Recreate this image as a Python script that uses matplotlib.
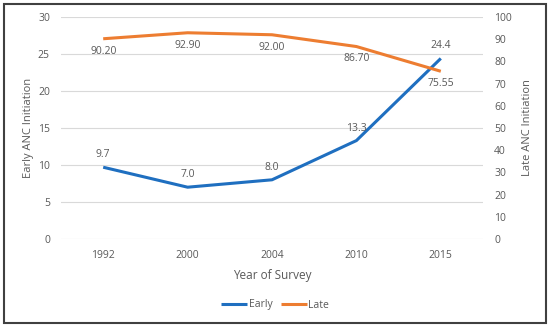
import matplotlib.pyplot as plt
from matplotlib.patches import Rectangle

years = ['1992', '2000', '2004', '2010', '2015']
early = [9.7, 7.0, 8.0, 13.3, 24.4]
late = [90.20, 92.90, 92.00, 86.70, 75.55]
early_labels = ['9.7', '7.0', '8.0', '13.3', '24.4']
late_labels = ['90.20', '92.90', '92.00', '86.70', '75.55']

blue = '#1f6fc0'
orange = '#ed7d31'
grey = '#595959'
fs = 7.5

plt.rcParams['font.family'] = ['Open Sans', 'DejaVu Sans']

fig = plt.figure(figsize=(5.5, 3.27), dpi=100)
ax = fig.add_axes([61 / 550, 1 - 239 / 327, 422 / 550, 222 / 327])
ax2 = ax.twinx()

x = list(range(len(years)))
l1, = ax.plot(x, early, color=blue, lw=2.2, solid_capstyle='butt', zorder=3)
l2, = ax2.plot(x, late, color=orange, lw=2.2, solid_capstyle='butt', zorder=3)

for i in x:
    ax.annotate(early_labels[i], (i, early[i]), xytext=(0, 5), textcoords='offset points',
                ha='center', va='bottom', fontsize=fs, color=grey)
    ax2.annotate(late_labels[i], (i, late[i]), xytext=(0, -5), textcoords='offset points',
                 ha='center', va='top', fontsize=fs, color=grey)

ax.set_xlim(-0.5, 4.5)
ax.set_ylim(0, 30)
ax.set_yticks(range(0, 31, 5))
ax2.set_ylim(0, 100)
ax2.set_yticks(range(0, 101, 10))
ax.set_xticks(x)
ax.set_xticklabels(years)

ax.grid(axis='y', color='#d9d9d9', lw=0.8)
ax.set_axisbelow(True)
for a in (ax, ax2):
    for s in a.spines.values():
        s.set_visible(False)
    a.tick_params(length=0, labelsize=fs, labelcolor=grey)
ax.tick_params(axis='y', pad=8)
ax2.tick_params(axis='y', pad=8)
ax.tick_params(axis='x', pad=8)

ax.set_xlabel('Year of Survey', fontsize=8.5, color=grey, labelpad=6)
ax.set_ylabel('Early ANC Initiation', fontsize=8, color=grey, labelpad=3)
ax2.set_ylabel('Late ANC Initiation', fontsize=8, color=grey, labelpad=7)

fig.legend([l1, l2], ['Early', 'Late'], loc='center', bbox_to_anchor=(0.5, 1 - 305 / 327),
           ncol=2, frameon=False, fontsize=fs, labelcolor=grey, handlelength=2.5,
           handletextpad=0.1, columnspacing=0.8)

fig.patches.append(Rectangle((4 / 550, 4 / 327), 542 / 550, 319 / 327, transform=fig.transFigure,
                             fill=False, edgecolor='#404040', lw=1.5))

fig.savefig('out.png', dpi=100)
